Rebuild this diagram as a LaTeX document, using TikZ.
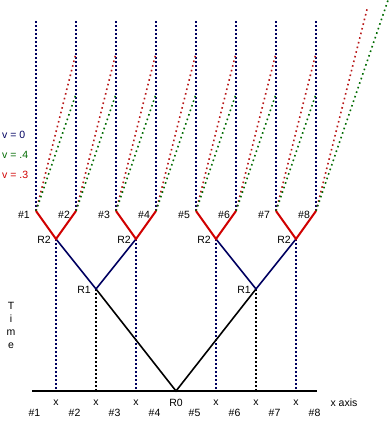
\documentclass[tikz,border=0pt]{standalone}
\usepackage{fontspec}
\setmainfont{Liberation Sans}
\usetikzlibrary{calc}
\definecolor{gridNavy}{HTML}{000060}
\definecolor{splitRed}{HTML}{D00000}
\definecolor{slowRed}{HTML}{B81818}
\definecolor{fastGreen}{HTML}{006A00}
\tikzset{
  lbl/.style={font=\fontsize{10.5}{12}\selectfont, inner sep=0pt, anchor=center},
  gridLine/.style={draw=gridNavy, line width=1.6pt, dash pattern=on 1.6pt off 2.4pt},
  dropLine/.style={draw=black, line width=1.6pt, dash pattern=on 1.6pt off 2.4pt},
  slowLine/.style={draw=slowRed, line width=1.6pt, dash pattern=on 1.6pt off 3.2pt},
  fastLine/.style={draw=fastGreen, line width=1.6pt, dash pattern=on 1.6pt off 3.2pt},
  axisLine/.style={draw=black, line width=2.2pt},
  stageA/.style={draw=black, line width=1.6pt},
  stageB/.style={draw=gridNavy, line width=1.6pt},
  stageC/.style={draw=splitRed, line width=2pt}
}

\begin{document}
\begin{tikzpicture}[x=1pt, y=-1pt]
\useasboundingbox (0,0) rectangle (390,435);

% ── Split points ───────────────────────────────────────────────────
\coordinate (R0)  at (176,391);
\coordinate (R1a) at (96,289);
\coordinate (R1b) at (256,289);
\coordinate (R2a) at (56,239);
\coordinate (R2b) at (136,239);
\coordinate (R2c) at (216,239);
\coordinate (R2d) at (296,239);
\coordinate (axL) at (32,391);
\coordinate (axR) at (317,391);

% ── Fragment lines #1..#8 ──────────────────────────────────────────
\foreach \i in {1,...,8} {
  \coordinate (F\i) at ({36+40*(\i-1)},211);
  \coordinate (T\i) at ({36+40*(\i-1)},20);
  \draw[gridLine] (F\i) -- (T\i);
  \node[lbl] (top\i) at ({24+40*(\i-1)},215) {\#\i};
  \node[lbl] (bot\i) at ({34.5+40*(\i-1)},413) {\#\i};
}

% tilted world lines
\foreach \i in {1,...,7} {
  \draw[slowLine] (F\i) -- ($(F\i)+(40,-158)$);
  \draw[fastLine] (F\i) -- ($(F\i)+(40,-117)$);
}
\draw[slowLine] (F8) -- ($(F8)+(51.6,-204)$);
\draw[fastLine] (F8) -- ($(F8)+(72.1,-211)$);

% ── Drops to the x axis ────────────────────────────────────────────
\draw[gridLine] (R2a) -- (R2a |- R0);
\draw[gridLine] (R2b) -- (R2b |- R0);
\draw[gridLine] (R2c) -- (R2c |- R0);
\draw[gridLine] (R2d) -- (R2d |- R0);
\draw[dropLine] (R1a) -- (R1a |- R0);
\draw[dropLine] (R1b) -- (R1b |- R0);

% ── Tree ───────────────────────────────────────────────────────────
\draw[stageA] (R1a) -- (R0) -- (R1b);
\draw[stageB] (R2a) -- (R1a) -- (R2b);
\draw[stageB] (R2c) -- (R1b) -- (R2d);
\draw[stageC] (F1) -- (R2a) -- (F2);
\draw[stageC] (F3) -- (R2b) -- (F4);
\draw[stageC] (F5) -- (R2c) -- (F6);
\draw[stageC] (F7) -- (R2d) -- (F8);

\draw[axisLine] (axL) -- (axR);

% ── Labels ─────────────────────────────────────────────────────────
\node[lbl] (lR2a) at (44,240)  {R2};
\node[lbl] (lR2b) at (124,240) {R2};
\node[lbl] (lR2c) at (204,240) {R2};
\node[lbl] (lR2d) at (284,240) {R2};
\node[lbl] (lR1a) at (84,290)  {R1};
\node[lbl] (lR1b) at (244,290) {R1};

\node[lbl] (xa) at (56,403)  {x};
\node[lbl] (xb) at (96,403)  {x};
\node[lbl] (xc) at (136,403) {x};
\node[lbl] (lR0) at (176,403) {R0};
\node[lbl] (xd) at (216,403) {x};
\node[lbl] (xe) at (256,403) {x};
\node[lbl] (xf) at (296,403) {x};
\node[lbl] (xaxis) at (344,403) {x axis};

\node[lbl, align=center, font=\fontsize{10.5}{13}\selectfont] (time) at (11,325)
  {T\\i\\m\\e};

\node[lbl, anchor=west, text=gridNavy]  (v0)  at (2,135) {v = 0};
\node[lbl, anchor=west, text=fastGreen] (v4)  at (2,155) {v = .4};
\node[lbl, anchor=west, text=splitRed]  (v3)  at (2,175) {v = .3};

\end{tikzpicture}
\end{document}
